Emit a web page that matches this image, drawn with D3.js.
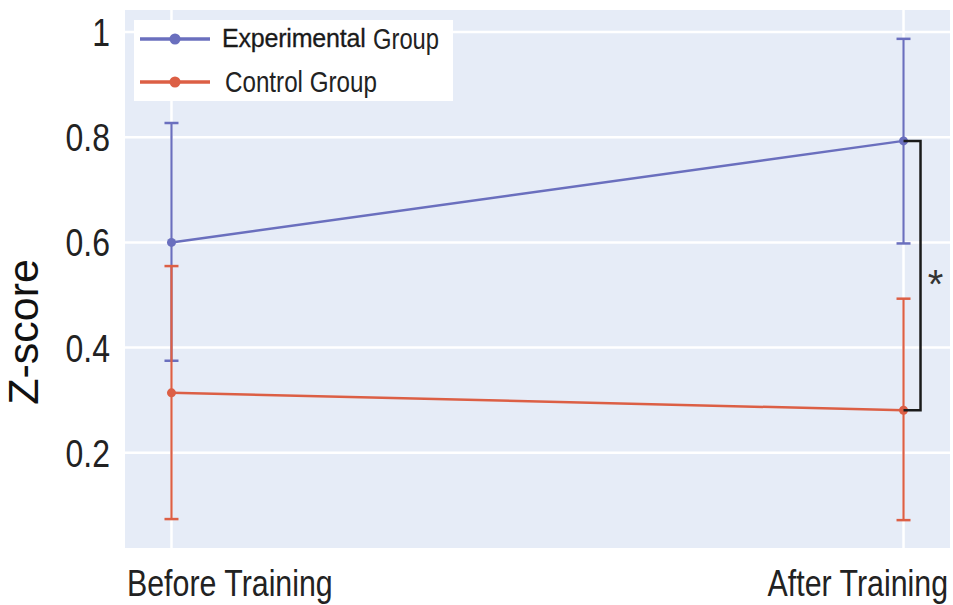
<!DOCTYPE html>
<html><head><meta charset="utf-8">
<script src="https://cdn.jsdelivr.net/npm/d3@7/dist/d3.min.js"></script>
<style>
html,body{margin:0;padding:0;background:#fff;}
svg{display:block;}
</style></head>
<body>
<svg id="chart" width="953" height="605"></svg>
<script>
const categories = ["Before Training", "After Training"];
const seriesNames = ["Experimental Group", "Control Group"];
const experimentalMean = [0.600, 0.793];
const experimentalLow  = [0.375, 0.598];
const experimentalHigh = [0.827, 0.987];
const controlMean = [0.314, 0.281];
const controlLow  = [0.074, 0.072];
const controlHigh = [0.555, 0.493];
const yTicks = [0.2, 0.4, 0.6, 0.8, 1];
const yTickLabels = ["0.2", "0.4", "0.6", "0.8", "1"];

const colors = ["#6a6fbe", "#dc5f45"];
const svg = d3.select("#chart");
const plot = {left:125, right:950, top:10, bottom:548};
const FONT = "'Liberation Sans', Arial, sans-serif";
const NARROW = 0.82;

const y = d3.scaleLinear().domain([0, 1]).range([558, 32]);
const x = d3.scalePoint().domain(categories).range([plot.left, plot.right]).padding(0.0635);

function condensed(parent, px, py, txt, size, anchor) {
  return parent.append("text")
    .attr("transform", `translate(${px},${py}) scale(${NARROW},1)`)
    .attr("text-anchor", anchor || "start")
    .style("font-family", FONT).style("font-size", size + "px")
    .attr("fill", "#222").text(txt);
}

// background
svg.append("rect").attr("x", plot.left).attr("y", plot.top)
  .attr("width", plot.right - plot.left).attr("height", plot.bottom - plot.top)
  .attr("fill", "#e6ecf7");

// grid
svg.append("g").selectAll("line").data(yTicks).join("line")
  .attr("x1", plot.left).attr("x2", plot.right)
  .attr("y1", d => y(d)).attr("y2", d => y(d))
  .attr("stroke", "#fff").attr("stroke-width", 2.5);
svg.append("g").selectAll("line").data(categories).join("line")
  .attr("x1", d => x(d)).attr("x2", d => x(d))
  .attr("y1", plot.top).attr("y2", plot.bottom)
  .attr("stroke", "#fff").attr("stroke-width", 2.5);

// y tick labels
const yt = svg.append("g");
yTicks.forEach((d, i) => condensed(yt, 110, y(d) + 14, yTickLabels[i], 39, "end"));

// x labels
condensed(svg, plot.left + 2, 596, categories[0], 37, "start");
condensed(svg, plot.right - 2, 596, categories[1], 37, "end");

// y axis title
svg.append("text").attr("transform", "translate(38,332) rotate(-90)")
  .attr("text-anchor", "middle")
  .style("font-family", FONT)
  .style("font-size", "43px").attr("fill", "#111").text("Z-score");

// series
const series = [
  {name: seriesNames[0], mean: experimentalMean, low: experimentalLow, high: experimentalHigh, color: colors[0]},
  {name: seriesNames[1], mean: controlMean, low: controlLow, high: controlHigh, color: colors[1]}
];

const line = d3.line().x((d, i) => x(categories[i])).y(d => y(d));

series.forEach(s => {
  const g = svg.append("g");
  categories.forEach((c, i) => {
    g.append("line").attr("x1", x(c)).attr("x2", x(c))
      .attr("y1", y(s.low[i])).attr("y2", y(s.high[i]))
      .attr("stroke", s.color).attr("stroke-width", 2.2);
    [s.low[i], s.high[i]].forEach(v => {
      g.append("line").attr("x1", x(c) - 7).attr("x2", x(c) + 7)
        .attr("y1", y(v)).attr("y2", y(v))
        .attr("stroke", s.color).attr("stroke-width", 2.5);
    });
  });
  g.append("path").attr("d", line(s.mean)).attr("fill", "none")
    .attr("stroke", s.color).attr("stroke-width", 2.5);
  g.selectAll("circle").data(s.mean).join("circle")
    .attr("cx", (d, i) => x(categories[i])).attr("cy", d => y(d))
    .attr("r", 4.5).attr("fill", s.color);
});

// significance bracket
const bx = x(categories[1]);
svg.append("path")
  .attr("d", `M${bx},${y(experimentalMean[1])}H${bx + 17}V${y(controlMean[1])}H${bx}`)
  .attr("fill", "none").attr("stroke", "#1a1a1a").attr("stroke-width", 2.5);
svg.append("text").attr("x", bx + 32).attr("y", (y(experimentalMean[1]) + y(controlMean[1])) / 2 + 22)
  .attr("text-anchor", "middle")
  .style("font-family", FONT)
  .style("font-size", "40px").attr("fill", "#333").text("*");

// legend
const lg = svg.append("g");
lg.append("rect").attr("x", 134).attr("y", 20).attr("width", 319).attr("height", 81).attr("fill", "#fff");
const legendRows = [39, 82];
series.forEach((s, i) => {
  lg.append("line").attr("x1", 140).attr("x2", 210).attr("y1", legendRows[i]).attr("y2", legendRows[i])
    .attr("stroke", s.color).attr("stroke-width", 3.5);
  lg.append("circle").attr("cx", 175).attr("cy", legendRows[i]).attr("r", 5.5).attr("fill", s.color);
});
// Experimental Group (mixed fonts as in the reference)
lg.append("text").attr("x", 222).attr("y", 47).attr("fill", "#1a1a1a")
  .style("font-family", FONT).style("font-size", "25px").style("letter-spacing", "-0.2px")
  .style("font-weight", "500").attr("stroke", "#1a1a1a").attr("stroke-width", 0.3)
  .text(seriesNames[0].split(" ")[0]);
condensed(lg, 373, 49, seriesNames[0].split(" ")[1], 29, "start");
condensed(lg, 225, 92, seriesNames[1], 29.5, "start");
</script>
</body></html>
